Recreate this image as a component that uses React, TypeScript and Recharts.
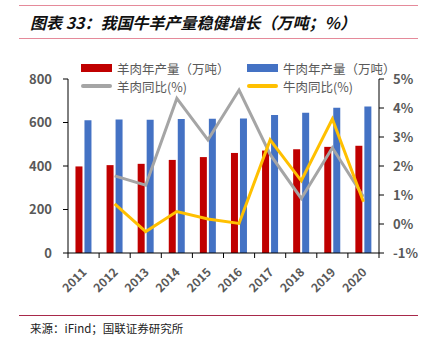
import { ComposedChart, Bar, Line, XAxis, YAxis } from 'recharts';

const years = ['2011', '2012', '2013', '2014', '2015', '2016', '2017', '2018', '2019', '2020'];
const muttonOutput = [398, 404, 410, 428, 441, 460, 471, 477, 488, 493];
const beefOutput = [610, 614, 613, 616, 617, 618, 635, 645, 668, 673];
const muttonYoY = [null, 1.66, 1.34, 4.33, 2.9, 4.62, 2.4, 0.88, 2.63, 0.94];
const beefYoY = [null, 0.69, -0.26, 0.43, 0.17, 0.02, 2.9, 1.49, 3.62, 0.77];
const leftTicks = [0, 200, 400, 600, 800];
const rightTicks = [-1, 0, 1, 2, 3, 4, 5];

const data = years.map((year, i) => ({
  year,
  mutton: muttonOutput[i],
  beef: beefOutput[i],
  muttonYoY: muttonYoY[i],
  beefYoY: beefYoY[i],
}));

const RED = '#C00000';
const BLUE = '#4472C4';
const GREY = '#A5A5A5';
const GOLD = '#FFC000';
const TEXT = '#595959';
const FONT = "'Noto Sans CJK SC', 'Noto Sans', sans-serif";

const YearTick = (props: any) => {
  const { x, y, payload, index } = props;
  const half = 15.55;
  return (
    <g>
      <line x1={x - half} y1={y - 8} x2={x - half} y2={y - 3} stroke="#000" />
      {index === years.length - 1 && (
        <line x1={x + half} y1={y - 8} x2={x + half} y2={y - 3} stroke="#000" />
      )}
      <text
        x={x + 4}
        y={y + 12}
        transform={`rotate(-45, ${x + 4}, ${y + 12})`}
        textAnchor="end"
        fill={TEXT}
        fontSize={12}
        fontWeight="bold"
        fontFamily={FONT}
      >
        {payload.value}
      </text>
    </g>
  );
};

const LegendItem = ({ color, label, line }: { color: string; label: string; line?: boolean }) => (
  <div style={{ display: 'flex', alignItems: 'center', gap: 5, height: 18 }}>
    <span
      style={{
        width: 31,
        height: line ? 4 : 8,
        borderRadius: line ? 2 : 0,
        background: color,
        display: 'inline-block',
      }}
    />
    <span style={{ fontSize: 12.5, color: TEXT, whiteSpace: 'nowrap' }}>{label}</span>
  </div>
);

export default function App() {
  return (
    <div
      style={{
        position: 'absolute',
        left: 0,
        top: 0,
        width: 428,
        height: 337,
        background: '#fff',
        fontFamily: FONT,
      }}
    >
      <div style={{ position: 'absolute', left: 19, top: 5, width: 399, height: 1, background: '#E58A9A' }} />
      <div
        style={{
          position: 'absolute',
          left: 30,
          top: 10,
          fontSize: 16,
          fontWeight: 'bold',
          fontStyle: 'italic',
          color: '#111',
          whiteSpace: 'nowrap',
        }}
      >
        图表 33：我国牛羊产量稳健增长（万吨；%）
      </div>
      <div style={{ position: 'absolute', left: 19, top: 38, width: 399, height: 1, background: '#E58A9A' }} />

      <ComposedChart
        width={428}
        height={337}
        data={data}
        margin={{ top: 79, right: 0, bottom: 34, left: 0 }}
        barCategoryGap="24%"
        barGap={2}
        style={{ position: 'absolute', left: 0, top: 0 }}
      >
        <XAxis
          dataKey="year"
          height={50}
          axisLine={{ stroke: '#000' }}
          tickLine={false}
          interval={0}
          tick={<YearTick />}
        />
        <YAxis
          yAxisId="left"
          width={68}
          domain={[0, 800]}
          ticks={leftTicks}
          axisLine={{ stroke: '#000' }}
          tickLine={{ stroke: '#000' }}
          tickSize={5}
          tickMargin={11}
          tick={{ fill: TEXT, fontSize: 13, fontWeight: 'bold', fontFamily: FONT }}
        />
        <YAxis
          yAxisId="right"
          orientation="right"
          width={49}
          domain={[-1, 5]}
          ticks={rightTicks}
          tickFormatter={(v: number) => `${v}%`}
          axisLine={{ stroke: '#000' }}
          tickLine={{ stroke: '#000' }}
          tickSize={5}
          tickMargin={9}
          tick={{ fill: TEXT, fontSize: 13, fontWeight: 'bold', fontFamily: FONT }}
        />
        <Bar yAxisId="left" dataKey="mutton" fill={RED} isAnimationActive={false} />
        <Bar yAxisId="left" dataKey="beef" fill={BLUE} isAnimationActive={false} />
        <Line
          yAxisId="right"
          dataKey="muttonYoY"
          stroke={GREY}
          strokeWidth={3}
          dot={false}
          type="linear"
          isAnimationActive={false}
        />
        <Line
          yAxisId="right"
          dataKey="beefYoY"
          stroke={GOLD}
          strokeWidth={3}
          dot={false}
          type="linear"
          isAnimationActive={false}
        />
      </ComposedChart>

      <div style={{ position: 'absolute', left: 81, top: 59 }}>
        <LegendItem color={RED} label="羊肉年产量（万吨）" />
        <LegendItem color={GREY} label="羊肉同比(%)" line />
      </div>
      <div style={{ position: 'absolute', left: 247, top: 59 }}>
        <LegendItem color={BLUE} label="牛肉年产量（万吨）" />
        <LegendItem color={GOLD} label="牛肉同比(%)" line />
      </div>

      <div style={{ position: 'absolute', left: 19, top: 315, width: 399, height: 1, background: '#A8294A' }} />
      <div
        style={{
          position: 'absolute',
          left: 30,
          top: 320,
          fontSize: 11.5,
          color: '#222',
          whiteSpace: 'nowrap',
        }}
      >
        来源：iFind；国联证券研究所
      </div>
    </div>
  );
}
